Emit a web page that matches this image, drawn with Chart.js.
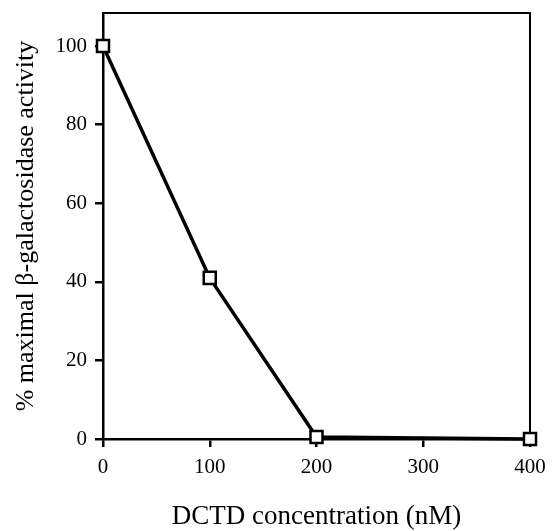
<!DOCTYPE html>
<html>
<head>
<meta charset="utf-8">
<script src="https://cdn.jsdelivr.net/npm/chart.js@4"></script>
<style>
  html, body { margin: 0; padding: 0; background: #fff; }
  #wrap { width: 555px; height: 531px; }
</style>
</head>
<body>
<div id="wrap"><canvas id="chart"></canvas></div>
<script>
// values
const concentrations = [0, 100, 200, 400]
const activity = [100, 41, 0.5, 0]
const xTicks = [0, 100, 200, 300, 400]
const yTicks = [0, 20, 40, 60, 80, 100]

const serif = "'Liberation Serif', 'Times New Roman', serif"

// top and right sides of the box
const frame = {
  id: 'frame',
  beforeDatasetsDraw (chart) {
    const { ctx, chartArea: a } = chart
    ctx.save()
    ctx.strokeStyle = '#000'
    ctx.lineWidth = 2
    ctx.beginPath()
    ctx.moveTo(a.left, a.top)
    ctx.lineTo(a.right, a.top)
    ctx.lineTo(a.right, a.bottom)
    ctx.stroke()
    ctx.restore()
  }
}

new Chart(document.getElementById('chart'), {
  type: 'line',
  data: {
    datasets: [{
      data: concentrations.map((x, i) => ({ x, y: activity[i] })),
      borderColor: '#000',
      borderWidth: 3.5,
      pointStyle: 'rect',
      pointRadius: 8.5,
      pointBorderWidth: 2.5,
      pointBorderColor: '#000',
      pointBackgroundColor: '#fff',
      clip: false,
      tension: 0
    }]
  },
  options: {
    responsive: true,
    maintainAspectRatio: false,
    animation: false,
    layout: { autoPadding: false, padding: { left: 0, top: 13, right: 25, bottom: 0 } },
    scales: {
      x: {
        type: 'linear',
        min: 0,
        max: 400,
        afterBuildTicks: (s) => { s.ticks = xTicks.map(v => ({ value: v })) },
        afterFit: (s) => { s.height = 92; s.paddingLeft = 0; s.paddingRight = 0 },
        border: { display: true, color: '#000', width: 2.5 },
        grid: { drawOnChartArea: false, drawTicks: true, tickLength: 8, color: '#000', lineWidth: 2.5 },
        ticks: { color: '#000', padding: 8, maxRotation: 0, font: { family: serif, size: 21 } },
        title: {
          display: true,
          text: 'DCTD concentration (nM)',
          color: '#000',
          font: { family: serif, size: 27, lineHeight: 1 },
          padding: { top: 0, bottom: 1 }
        }
      },
      y: {
        type: 'linear',
        min: 0,
        max: 108.4,
        afterBuildTicks: (s) => { s.ticks = yTicks.map(v => ({ value: v })) },
        afterFit: (s) => { s.width = 103; s.paddingTop = 0; s.paddingBottom = 0 },
        border: { display: true, color: '#000', width: 2.5 },
        grid: { drawOnChartArea: false, drawTicks: true, tickLength: 8, color: '#000', lineWidth: 2.5 },
        ticks: { color: '#000', padding: 8, font: { family: serif, size: 21 } },
        title: {
          display: true,
          text: '% maximal β-galactosidase activity',
          color: '#000',
          font: { family: serif, size: 26, lineHeight: 1 },
          padding: { top: 13, bottom: 0 }
        }
      }
    },
    plugins: {
      legend: { display: false },
      tooltip: { enabled: false }
    }
  },
  plugins: [frame]
})
</script>
</body>
</html>
